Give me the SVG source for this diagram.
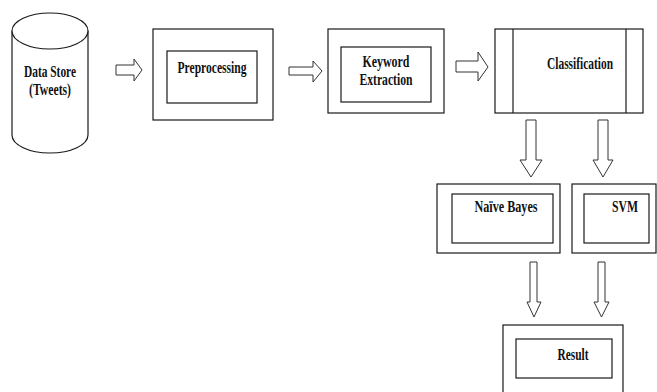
<svg xmlns="http://www.w3.org/2000/svg" width="657" height="392" viewBox="0 0 657 392">
<style>
.b{fill:#fff;stroke:#1a1a1a;stroke-width:1.2}
.a{fill:#fff;stroke:#333;stroke-width:1}
.t{font-family:"Liberation Serif","Times New Roman",serif;font-weight:bold;font-size:16px;fill:#111;text-anchor:middle}
</style>
<rect width="657" height="392" fill="#fff"/>
<g id="datastore">
<path class="b" d="M12,31 L12,135 A38,18 0 0 0 88,135 L88,31"/>
<ellipse class="b" cx="50" cy="31" rx="38" ry="18"/>
<text class="t" x="50" y="77" textLength="52" lengthAdjust="spacingAndGlyphs">Data Store</text>
<text class="t" x="50" y="95" textLength="42" lengthAdjust="spacingAndGlyphs">(Tweets)</text>
</g>
<g id="preprocessing">
<rect class="b" x="153" y="29" width="120" height="91"/>
<rect class="b" x="167" y="51" width="90" height="52"/>
<text class="t" x="212" y="73" textLength="69" lengthAdjust="spacingAndGlyphs">Preprocessing</text>
</g>
<g id="keyword">
<rect class="b" x="328" y="29" width="116" height="84"/>
<rect class="b" x="341" y="47" width="90" height="55"/>
<text class="t" x="386" y="67" textLength="47" lengthAdjust="spacingAndGlyphs">Keyword</text>
<text class="t" x="386" y="85" textLength="53" lengthAdjust="spacingAndGlyphs">Extraction</text>
</g>
<g id="classification">
<rect class="b" x="495" y="29" width="148" height="84"/>
<line class="b" x1="513" y1="29" x2="513" y2="113"/>
<line class="b" x1="626" y1="29" x2="626" y2="113"/>
<text class="t" x="580" y="69" textLength="66" lengthAdjust="spacingAndGlyphs">Classification</text>
</g>
<g id="naivebayes">
<rect class="b" x="437" y="184" width="123" height="69"/>
<rect class="b" x="452" y="194" width="101" height="49"/>
<text class="t" x="506" y="212" textLength="63" lengthAdjust="spacingAndGlyphs">Naïve  Bayes</text>
</g>
<g id="svm">
<rect class="b" x="572" y="184" width="84" height="69"/>
<rect class="b" x="584" y="194" width="65" height="49"/>
<text class="t" x="625" y="212" textLength="26" lengthAdjust="spacingAndGlyphs">SVM</text>
</g>
<g id="result">
<rect class="b" x="503" y="325" width="120" height="80"/>
<rect class="b" x="516" y="339" width="96" height="39"/>
<text class="t" x="573" y="360" textLength="31" lengthAdjust="spacingAndGlyphs">Result</text>
</g>
<g id="connectors">
<polygon class="a" points="116,65 134,65 134,59 142,70 134,81 134,75 116,75"/>
<polygon class="a" points="289,67 313,67 313,61 322,71 313,82 313,75 289,75"/>
<polygon class="a" points="456,61 478,61 478,52 488,67 478,81 478,72 456,72"/>
<polygon class="a" points="526,120 536,120 536,160 542,160 531,177 520,160 526,160"/>
<polygon class="a" points="598,120 608,120 608,160 613,160 603,177 593,160 598,160"/>
<polygon class="a" points="530,262 537,262 537,302 541,302 534,317 527,302 530,302"/>
<polygon class="a" points="598,262 605,262 605,302 609,302 601.5,317 594,302 598,302"/>
</g>
</svg>
